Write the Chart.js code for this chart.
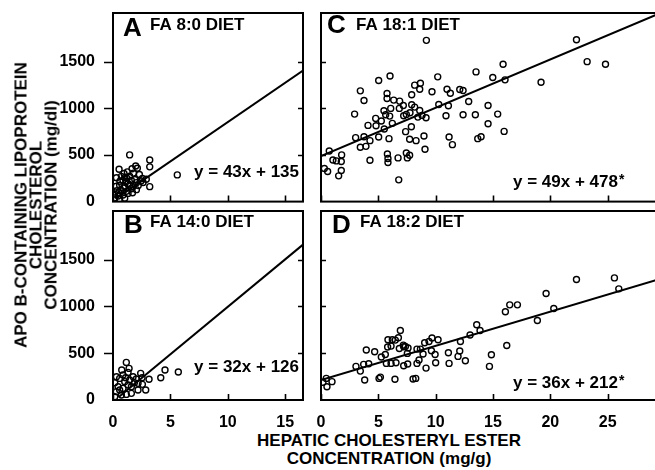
<!DOCTYPE html>
<html>
<head>
<meta charset="utf-8">
<script src="https://cdn.jsdelivr.net/npm/chart.js@4.4.0/dist/chart.umd.min.js"></script>
<style>
  html, body { margin: 0; padding: 0; background: #fff; width: 655px; height: 470px; overflow: hidden; position: relative; }
  canvas { position: absolute; }
  .axis-title { position: absolute; font: bold 17px "Liberation Sans", Arial, sans-serif; color: #000; text-align: center; white-space: nowrap; }
  #ytitle { left: 36px; top: 205px; line-height: 15px; transform: translate(-50%, -50%) rotate(-90deg); }
  #xtitle { left: 389px; top: 450px; line-height: 18px; transform: translate(-50%, -50%); }
</style>
</head>
<body>
<canvas id="cA" width="312" height="206" style="left:0;top:0"></canvas>
<canvas id="cB" width="312" height="230" style="left:0;top:200px"></canvas>
<canvas id="cC" width="360" height="206" style="left:310px;top:0"></canvas>
<canvas id="cD" width="360" height="230" style="left:310px;top:200px"></canvas>
<div id="ytitle" class="axis-title">APO B-CONTAINING LIPOPROTEIN<br>CHOLESTEROL<br>CONCENTRATION (mg/dl)</div>
<div id="xtitle" class="axis-title">HEPATIC CHOLESTERYL ESTER<br>CONCENTRATION (mg/g)</div>
<script>
// Tick values
const yTicks = [0, 500, 1000, 1500];
const xTicksAB = [0, 5, 10, 15];
const xTicksCD = [0, 5, 10, 15, 20, 25];

// Hepatic CE (mg/g) vs apoB-lipoprotein cholesterol (mg/dl), one pair per animal
const dietA = [
  [1.45,500],[3.2,446],[3.2,372],[1.98,382],[1.66,352],[2.12,357],[0.53,347],[0.96,301],[1.25,318],[1.78,305],
  [1.45,272],[2.56,247],[2.44,220],[2.04,203],[3.2,160],[5.6,286],[0.73,270],[0.87,228],[1.16,215],[1.6,226],
  [1.9,236],[0.58,175],[1.02,160],[1.45,178],[1.75,160],[2.2,172],[2.62,205],[0.35,118],[0.7,122],[1.16,110],
  [1.6,138],[2.04,128],[0.15,82],[0.44,60],[0.87,70],[1.31,88],[0.15,40],[0.58,28],[1.02,36],[0.29,165],
  [0.6,218],[1.02,258],[2.9,240],[0.3,255],[1.3,195],[0.9,145],[0.5,95],[1.7,95],[2.3,290],[1.2,250]
];
const dietB = [
  [1.16,402],[1.4,338],[1.31,295],[2.41,285],[2.53,238],[3.14,221],[4.16,238],[4.53,320],[5.69,299],[2.85,107],
  [2.18,107],[1.86,185],[0.15,185],[0.58,231],[0.87,267],[1.75,249],[2.03,224],[0.44,142],[0.87,124],[1.31,160],
  [1.6,142],[0.29,89],[0.73,53],[1.16,60],[1.6,71],[0.15,36],[0.58,107],[1.02,196],[1.45,213],[2.18,178],
  [2.56,167],[0.76,320],[1.1,238],[0.3,249]
];
const dietC = [
  [9.19,1727],[22.28,1734],[23.21,1499],[24.81,1471],[15.88,1471],[13.52,1389],[14.98,1329],[16.05,1304],[19.19,1279],[10.18,1336],
  [6.02,1346],[5.03,1297],[8.67,1268],[8.17,1247],[3.43,1186],[3.75,1083],[5.76,1158],[5.76,1104],[7.91,1144],[8.61,1204],
  [9.68,1176],[10.99,1204],[11.28,1161],[12.1,1200],[12.39,1190],[6.34,1087],[6.86,1076],[7.18,1030],[6.83,998],[6.08,998],
  [5.49,973],[5.64,930],[5.99,916],[4.77,891],[5.26,863],[4.8,813],[4.1,816],[2.93,937],[7.21,920],[7.76,952],
  [8.17,1012],[8.61,976],[8.81,923],[9.16,898],[8.45,905],[7.91,1037],[10.27,1040],[11.11,1026],[12.88,1072],[14.57,1030],
  [15.41,937],[13.46,930],[12.39,930],[10.9,920],[6.22,838],[5.52,777],[5.93,674],[5.03,692],[4.27,653],[3.75,695],
  [3.02,685],[3.43,582],[3.92,592],[7.88,802],[7.38,749],[8.98,703],[7.73,667],[8.29,653],[9.07,560],[11.17,692],
  [11.46,610],[13.67,674],[13.96,695],[14.57,834],[15.97,752],[5.79,510],[5.84,461],[5.84,418],[6.72,468],[7.44,521],
  [7.73,496],[7.53,468],[4.27,443],[0.72,542],[1.04,446],[1.34,436],[1.8,500],[1.77,429],[1.77,333],[1.54,276],
  [0.29,354],[0.58,322],[6.78,233],[7.44,934]
];
const dietD = [
  [25.59,1305],[25.97,1188],[22.28,1288],[19.63,1138],[20.3,978],[18.87,850],[16.08,943],[16.46,1017],[17.13,1017],[13.58,804],
  [13.87,743],[13.0,694],[12.16,626],[12.1,523],[11.95,466],[12.59,420],[14.86,484],[14.69,359],[16.2,583],[11.11,505],
  [11.17,391],[10.21,644],[9.68,662],[9.42,626],[9.04,612],[9.63,526],[9.95,487],[10.0,398],[9.16,341],[8.9,491],
  [8.67,544],[8.37,544],[8.55,427],[8.37,391],[8.03,224],[8.26,231],[7.56,384],[7.21,366],[7.53,498],[7.59,555],
  [7.36,573],[7.18,587],[6.92,743],[6.75,665],[6.83,551],[6.48,640],[6.22,644],[5.84,644],[6.11,576],[5.81,566],
  [6.54,398],[6.11,391],[5.7,391],[5.61,487],[5.26,459],[5.18,245],[5.06,231],[6.45,221],[4.68,516],[3.95,534],
  [4.16,388],[3.72,381],[3.05,359],[3.43,309],[3.81,213],[0.46,231],[0.96,196],[0.52,142],[0.17,189],[7.21,569]
];

// Regression line end points
const fitA = [[0.3, 35], [16.55, 1403]];
const fitB = [[0.5, 32], [16.55, 1661]];
const fitC = [[0, 487], [29.6, 2020]];
const fitD = [[0, 213], [30, 1310]];

const FONT = '"Liberation Sans", Arial, sans-serif';

// Frame, inward/outward tick marks and panel captions
const framePlugin = {
  id: 'panelFrame',
  afterDraw(chart, args, opts) {
    const { ctx, chartArea: a, scales: { x, y } } = chart;
    ctx.save();
    ctx.strokeStyle = '#000';
    ctx.fillStyle = '#000';
    ctx.lineWidth = 2;
    ctx.strokeRect(a.left, a.top, a.right - a.left, a.bottom - a.top);
    ctx.lineWidth = 1.6;
    ctx.beginPath();
    opts.xTicks.forEach(v => {
      const px = Math.round(x.getPixelForValue(v)) + 0.5;
      ctx.moveTo(px, a.bottom); ctx.lineTo(px, a.bottom - 6);
    });
    yTicks.forEach(v => {
      if (v === 0) return;
      const py = Math.round(y.getPixelForValue(v)) + 0.5;
      if (opts.leftOut) { ctx.moveTo(a.left - 9, py); ctx.lineTo(a.left, py); }
      else { ctx.moveTo(a.left, py); ctx.lineTo(a.left + 5, py); }
      ctx.moveTo(a.right, py); ctx.lineTo(a.right - 5, py);
    });
    ctx.stroke();

    ctx.textBaseline = 'alphabetic';
    ctx.textAlign = 'left';
    ctx.font = 'bold 26px ' + FONT;
    ctx.fillText(opts.letter, a.left + opts.letterDx, a.top + opts.letterDy);
    ctx.font = 'bold 17px ' + FONT;
    ctx.fillText(opts.title, a.left + opts.titleDx, a.top + opts.titleDy);
    const base = a.bottom - opts.eqDy;
    if (opts.eqAlign === 'right') {
      ctx.textAlign = 'right';
      ctx.fillText(opts.eq, a.right - opts.eqDx, base);
    } else {
      ctx.textAlign = 'left';
      const x0 = a.left + opts.eqDx;
      ctx.fillText(opts.eq, x0, base);
      if (opts.star) {
        // significance mark, set as a small superscript
        const w = ctx.measureText(opts.eq).width;
        ctx.font = 'bold 14px ' + FONT;
        ctx.fillText('*', x0 + w + 1, base - 3);
      }
    }
    ctx.restore();
  }
};

// Fixed axis sizes with no label overhang, so every panel lines up exactly
function fixSize(s, w, h) {
  if (w !== null) s.width = w;
  if (h !== null) s.height = h;
  s.paddingTop = 0; s.paddingBottom = 0; s.paddingLeft = 0; s.paddingRight = 0;
}

function makePanel(id, cfg) {
  const tickFont = { family: FONT, size: 16, weight: 'bold' };
  return new Chart(document.getElementById(id), {
    type: 'scatter',
    data: {
      datasets: [
        {
          data: cfg.points.map(([x, y]) => ({ x, y })),
          pointStyle: 'circle',
          pointRadius: 3,
          pointHoverRadius: 3,
          borderColor: '#000',
          borderWidth: 1.4,
          backgroundColor: 'rgba(0,0,0,0)'
        },
        {
          type: 'line',
          data: cfg.fit.map(([x, y]) => ({ x, y })),
          borderColor: '#000',
          borderWidth: 2,
          pointRadius: 0,
          fill: false,
          tension: 0
        }
      ]
    },
    options: {
      responsive: false,
      animation: false,
      events: [],
      layout: { padding: cfg.pad },
      plugins: {
        legend: { display: false },
        tooltip: { enabled: false },
        panelFrame: cfg.frame
      },
      scales: {
        x: {
          type: 'linear',
          min: 0,
          max: cfg.xMax,
          afterBuildTicks: s => { s.ticks = cfg.frame.xTicks.map(v => ({ value: v })); },
          afterFit: s => fixSize(s, null, cfg.xAxisH),
          grid: { display: false },
          border: { display: false },
          ticks: { display: cfg.xLabels, color: '#000', font: tickFont, padding: 5, maxRotation: 0, autoSkip: false,
                   callback: v => String(v) }
        },
        y: {
          type: 'linear',
          min: 0,
          max: 2020,
          afterBuildTicks: s => { s.ticks = yTicks.map(v => ({ value: v })); },
          afterFit: s => fixSize(s, cfg.yAxisW, null),
          grid: { display: false },
          border: { display: false },
          ticks: { display: cfg.yLabels, color: '#000', font: tickFont, padding: 10, autoSkip: false,
                   callback: v => String(v) }
        }
      }
    },
    plugins: [framePlugin]
  });
}

makePanel('cA', {
  points: dietA, fit: fitA, xMax: 16.55,
  pad: { left: 0, right: 9, top: 13, bottom: 0 }, yAxisW: 113, xAxisH: 4,
  xLabels: false, yLabels: true,
  frame: { xTicks: xTicksAB, leftOut: true, letter: 'A', letterDx: 10, letterDy: 23,
           title: 'FA 8:0 DIET', titleDx: 37, titleDy: 17,
           eq: 'y = 43x + 135', eqAlign: 'right', eqDx: 4, eqDy: 25 }
});
makePanel('cB', {
  points: dietB, fit: fitB, xMax: 16.55,
  pad: { left: 0, right: 9, top: 11, bottom: 0 }, yAxisW: 113, xAxisH: 30,
  xLabels: true, yLabels: true,
  frame: { xTicks: xTicksAB, leftOut: true, letter: 'B', letterDx: 11, letterDy: 22,
           title: 'FA 14:0 DIET', titleDx: 37, titleDy: 16,
           eq: 'y = 32x + 126', eqAlign: 'right', eqDx: 4, eqDy: 28 }
});
makePanel('cC', {
  points: dietC, fit: fitC, xMax: 30,
  pad: { left: 11, right: 5, top: 13, bottom: 0 }, yAxisW: 0, xAxisH: 4,
  xLabels: false, yLabels: false,
  frame: { xTicks: xTicksCD, leftOut: false, letter: 'C', letterDx: 6, letterDy: 20,
           title: 'FA 18:1 DIET', titleDx: 35, titleDy: 17,
           eq: 'y = 49x + 478', star: true, eqAlign: 'left', eqDx: 192, eqDy: 15 }
});
makePanel('cD', {
  points: dietD, fit: fitD, xMax: 30,
  pad: { left: 11, right: 5, top: 11, bottom: 0 }, yAxisW: 0, xAxisH: 30,
  xLabels: true, yLabels: false,
  frame: { xTicks: xTicksCD, leftOut: false, letter: 'D', letterDx: 11, letterDy: 22,
           title: 'FA 18:2 DIET', titleDx: 39, titleDy: 16,
           eq: 'y = 36x + 212', star: true, eqAlign: 'left', eqDx: 192, eqDy: 12 }
});
</script>
</body>
</html>
